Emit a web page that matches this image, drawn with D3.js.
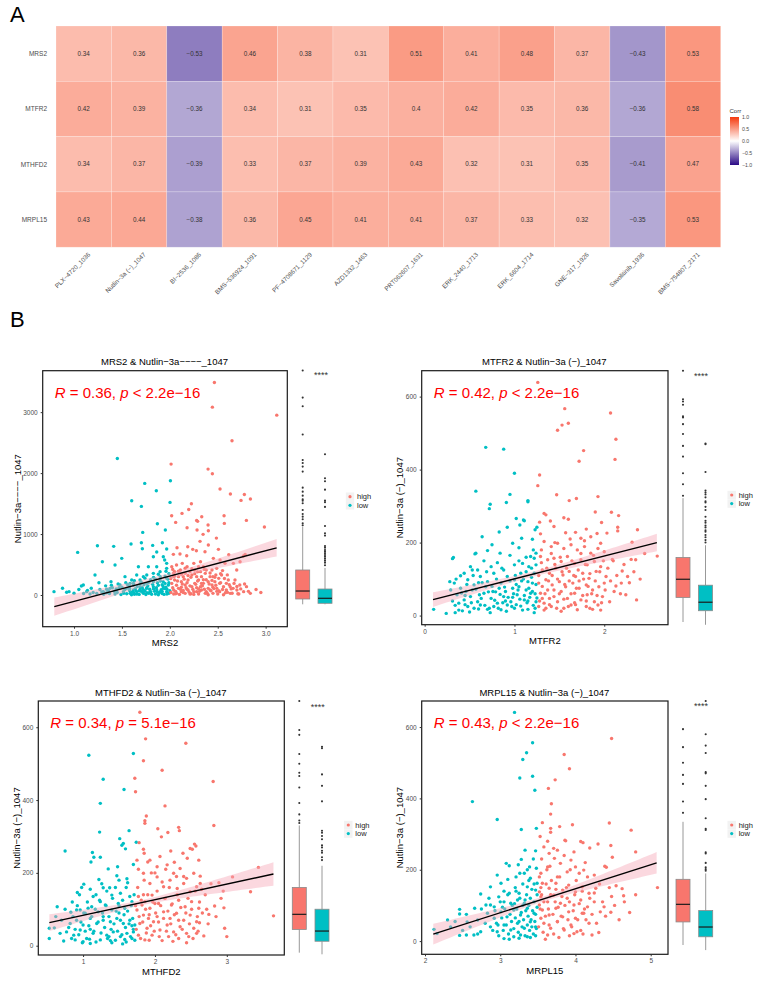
<!DOCTYPE html>
<html>
<head>
<meta charset="utf-8">
<script src="https://cdn.jsdelivr.net/npm/d3@7"></script>
<style>
  body { margin: 0; background: #fff; }
  text { font-family: "Liberation Sans", Arial, sans-serif; }
</style>
</head>
<body>
<svg id="fig" width="768" height="981"></svg>
<script>
// ---------- A: correlation heatmap ----------
var drugs = ["PLX−4720_1036", "Nutlin−3a (−)_1047", "BI−2536_1086", "BMS−536924_1091", "PF−4708671_1129",
  "AZD1332_1463", "PRT062607_1631", "ERK_2440_1713", "ERK_6604_1714", "GNE−317_1926", "Savolitinib_1936", "BMS−754807_2171"];
var genes = ["MRS2", "MTFR2", "MTHFD2", "MRPL15"];
var corrMRS2   = [0.34, 0.36, -0.53, 0.46, 0.38, 0.31, 0.51, 0.41, 0.48, 0.37, -0.43, 0.53];
var corrMTFR2  = [0.42, 0.39, -0.36, 0.34, 0.31, 0.35, 0.4, 0.42, 0.35, 0.36, -0.36, 0.58];
var corrMTHFD2 = [0.34, 0.37, -0.39, 0.33, 0.37, 0.39, 0.43, 0.32, 0.31, 0.35, -0.41, 0.47];
var corrMRPL15 = [0.43, 0.44, -0.38, 0.36, 0.45, 0.41, 0.41, 0.37, 0.33, 0.32, -0.35, 0.53];
var corrTicks = [1, 0.5, 0, -0.5, -1];

// ---------- B: scatter + box panels ----------
var mrs2High = [[2.465,3486],[2.444,3082],[3.116,2951],[2.649,2530],[2.399,2066],[2.444,1989],[2.013,2148],[2.524,1738],[2.632,1656],[2.778,1650],[2.841,1574],[2.743,1552],[2.225,1497],[2.127,1339],[2.197,1404],[2.019,1301],[2.061,1191],[2.280,1224],[2.290,1208],[2.333,1284],[2.399,1148],[2.566,1301],[2.569,1175],[2.799,1224],[2.987,1115],[2.180,1104],[2.402,1055],[2.284,1066],[2.347,995],[2.486,934],[2.315,880],[2.187,792],[2.239,749],[2.075,776],[2.037,667],[2.106,672],[2.176,645],[2.277,727],[2.402,820],[2.367,710],[2.507,749],[2.615,661],[2.768,639],[2.733,546],[2.786,667],[2.454,601],[2.524,574],[2.576,519],[2.663,519],[2.698,410],[2.489,437],
  [2.02,464],[2.05,383],[2.09,301],[2.12,219],[2.16,164],[2.19,82],[2.23,137],[2.26,191],[2.30,246],[2.33,301],[2.37,355],[2.05,246],[2.09,109],[2.12,55],[2.16,27],[2.04,82],[2.07,27],[2.19,246],[2.23,328],[2.26,410],[2.30,464],[2.33,82],[2.37,27],[2.40,109],[2.44,164],[2.47,219],[2.51,273],[2.54,328],[2.56,137],[2.59,82],[2.63,27],[2.66,109],[2.72,16],[2.73,164],[2.80,137],[2.11,410],[2.18,464],[2.25,519],[2.32,546],[2.38,410],[2.42,301],[2.49,109],[2.52,55],[2.35,191],[2.28,55],[2.21,16],[2.14,301],[2.45,27],[2.68,246],[2.61,246],[2.04,301],[2.07,492],[2.13,519],[2.35,464],[2.44,410],[2.52,191],
  [2.04,16],[2.12,126],[2.18,93],[2.25,55],[2.30,16],[2.32,137],[2.38,55],[2.42,82],[2.45,126],[2.51,71],[2.58,38],[2.63,137],[2.70,82],[2.28,301],[2.21,383],[2.16,355],[2.45,301],[2.40,219],[2.32,383],[2.59,191],[2.77,55],[2.84,27]];
var mrs2HighDense = [[2.01,40],[2.02,190],[2.03,120],[2.04,360],[2.06,60],[2.07,160],[2.08,230],[2.10,10],[2.11,95],[2.13,180],[2.14,40],[2.15,260],[2.17,120],[2.18,200],[2.20,50],[2.21,150],[2.22,290],[2.24,95],[2.25,10],[2.27,175],[2.28,120],[2.29,230],[2.31,60],[2.33,190],[2.34,150],[2.36,95],[2.38,250],[2.39,30],[2.41,180],[2.43,70],[2.44,240],[2.46,105],[2.48,160],[2.50,15],[2.53,200],[2.55,90],[2.57,270],[2.60,45],[2.62,170],[2.65,30],[2.67,190],[2.70,140],[2.74,100],[2.78,180],[2.82,60],[2.03,420],[2.09,390],[2.16,440],[2.23,430],[2.29,380],[2.36,420],[2.42,360],[2.48,330],[2.55,400],[2.01,270],[2.05,310],[2.12,340],[2.19,320],[2.26,350],[2.35,250],[2.47,290],[2.53,350],[2.60,330],[2.06,20],[2.14,75],[2.22,20],[2.30,100],[2.40,5],[2.49,60],[2.56,5],[2.64,100],[2.71,20],[2.90,90],[2.95,40]];
var mrs2Low = [[0.791,55],[1.452,2240],[1.738,1831],[1.859,1710],[2.006,1874],[1.602,1546],[1.703,1454],[2.002,1519],[1.870,1169],[1.717,1027],[1.953,1066],[1.038,699],[1.244,809],[1.414,798],[1.595,836],[1.703,858],[1.713,760],[1.821,814],[1.922,858],[1.967,754],[1.863,705],[1.828,628],[1.932,628],[1.946,574],[1.498,601],[1.296,546],[1.428,492],[1.097,164],[1.077,148],[0.923,44],[0.948,55],[1.219,328],[1.386,219],[1.480,164],[1.585,191],[1.654,328],[1.724,301],[1.672,464],[1.776,464],[1.863,464],[1.898,383],[1.967,437],[1.967,519],[1.828,355],[1.759,328],[1.132,55],[1.237,27],[1.306,55],[1.376,109],[1.445,82],[1.515,55],[1.550,109],[1.619,82],[1.689,137],[1.759,191],[1.828,219],[1.898,246],[1.967,273],[1.985,164],[1.932,109],[1.863,82],[1.793,55],[1.724,27],[1.654,16],[1.585,27],[1.759,109],[1.828,137],[1.898,55],[1.967,55],[1.689,246],[1.619,191],[1.428,16],[1.341,38],[1.167,16],[1.532,301],[1.602,246],
  [1.55,20],[1.62,40],[1.70,60],[1.78,30],[1.85,15],[1.92,25],[1.99,30],[1.88,160],[1.95,190],[1.80,250],[1.73,170],[1.66,140],[1.50,130],[1.45,40],[1.36,70],[1.27,90],[1.20,40],[1.10,25],[1.63,12],[1.72,90],[1.90,300],[1.99,350],[1.83,290],[1.68,70],[1.93,140],[1.58,75]];
var mrs2LowDense = [[1.31,12],[1.34,95],[1.39,160],[1.42,62],[1.47,118],[1.49,8],[1.53,88],[1.56,170],[1.58,140],[1.61,52],[1.64,104],[1.66,22],[1.69,180],[1.71,128],[1.74,70],[1.76,36],[1.77,150],[1.79,95],[1.81,12],[1.82,175],[1.84,60],[1.86,120],[1.87,200],[1.89,35],[1.91,85],[1.93,220],[1.94,10],[1.96,130],[1.97,95],[1.99,200],[2.00,70],[1.98,260],[1.95,310],[1.90,230],[1.85,260],[1.78,210],[1.70,215],[1.62,160],[1.54,200],[1.46,180],[1.40,120],[1.33,150],[1.26,200],[1.18,110],[1.14,75],[1.05,90],[1.00,30],[0.88,110],[1.60,5],[1.68,10],[1.75,8],[1.88,5],[1.97,15],[1.52,30],[1.44,100],[1.37,25],[1.29,50],[1.72,40],[1.80,55],[1.92,60],[1.65,62],[1.58,105],[1.83,100],[1.95,105],[1.87,48],[1.76,120],[1.69,100],[1.63,235],[1.74,275],[1.88,340],[1.96,390],[1.92,170]];
var mrs2Fit = [-522.8, 416.6], mrs2FitX = [0.794, 3.115], mrs2Band = [1.986, 50, 150];
var mrs2Stat = ["0.36", "<", "2.2e−16"];
var mrs2BoxHigh = [0, 79.5, 199, 514, 1163], mrs2BoxLow = [0, 15, 90, 229, 545];
var mrs2OutHigh = [3502,3097,2968,2543,2163,2118,2063,1988,1748,1688,1628,1574,1553,1514,1414,1354,1313,1274,1214,1184];
var mrs2OutLow = [2249,1889,1844,1718,1553,1529,1459,1174,1064,1029,874,849,814,789,764,739,714,684,654,624,585];

var mtfr2High = [[1.26,639],[1.56,567],[1.53,522],[1.60,527],[1.48,508],[2.07,555],[2.13,483],[2.12,428],[1.77,452],[1.72,423],[1.28,385],[1.26,356],[1.47,331],[1.61,315],[1.69,321],[1.93,326],[1.33,280],[1.35,276],[1.55,268],[1.60,264],[1.90,284],[2.08,283],[2.16,274],[1.97,255],[2.15,242],[2.15,232],[2.37,235],[1.28,256],[1.40,259],[1.44,244],[1.29,224],[1.57,227],[1.68,228],[1.80,237],[1.74,212],[1.85,216],[2.03,226],[2.31,201],[2.00,175],[2.09,154],[2.30,154],[2.35,153],[2.59,163],[2.20,122],[2.13,81],[2.24,57],[2.36,43],
  [1.33,203],[1.41,189],[1.48,198],[1.55,184],[1.63,194],[1.70,180],[1.78,189],[1.85,171],[1.93,184],[1.96,198],
  [1.29,162],[1.37,153],[1.44,157],[1.52,148],[1.59,162],[1.67,143],[1.74,153],[1.81,139],[1.89,148],[1.96,134],
  [1.31,125],[1.39,116],[1.46,130],[1.54,111],[1.61,121],[1.68,107],[1.76,116],[1.83,102],[1.91,121],[2.02,107],
  [1.27,89],[1.35,98],[1.42,84],[1.50,93],[1.57,79],[1.65,89],[1.72,75],[1.80,84],[1.87,70],[1.94,79],
  [1.29,61],[1.37,70],[1.44,52],[1.52,66],[1.59,47],[1.67,61],[1.74,43],[1.81,57],[1.89,38],[1.98,52],
  [1.33,34],[1.41,25],[1.48,38],[1.55,20],[1.63,29],[1.70,16],[1.80,25],[1.87,17],[1.93,29],[2.06,38],[2.11,66],[2.19,89],[2.26,107],[2.00,89],[1.27,25],[1.31,47],[1.39,47]];
var mtfr2HighDense = [[1.27,110],[1.28,40],[1.30,145],[1.31,80],[1.33,15],[1.34,60],[1.36,130],[1.38,95],[1.39,30],[1.41,170],[1.42,110],[1.44,70],[1.45,140],[1.47,20],[1.48,100],[1.50,60],[1.51,160],[1.53,120],[1.55,45],[1.56,85],[1.58,130],[1.60,25],[1.61,95],[1.63,60],[1.64,150],[1.66,110],[1.67,35],[1.69,75],[1.71,125],[1.72,95],[1.74,170],[1.76,55],[1.77,100],[1.79,140],[1.80,40],[1.82,80],[1.84,115],[1.86,60],[1.88,165],[1.90,95],[1.92,55],[1.95,120],[1.97,35],[1.99,150],[2.01,70],[2.04,130],[2.07,95],[2.10,150],[2.14,110],[2.18,60],[2.22,140],[2.28,90],[2.33,120],[2.40,100],[2.45,170],[1.30,180],[1.45,200],[1.62,210],[1.78,205],[1.92,225],[1.35,20],[1.52,12],[1.68,30],[1.84,20],[1.96,15]];
var mtfr2Low = [[0.68,461],[0.88,456],[1.00,390],[0.57,341],[0.95,332],[0.91,310],[0.73,305],[0.72,293],[1.15,312],[1.15,315],[1.02,266],[1.10,262],[1.11,260],[1.06,248],[0.92,242],[0.83,229],[0.64,216],[0.75,194],[0.56,169],[0.57,171],[0.32,159],[0.31,156],[1.23,235],[1.25,242],[1.20,209],[1.22,157],[1.08,212],[0.98,198],[1.05,186],[0.84,171],[0.70,178],[0.51,134],[0.40,109],[0.28,93],[0.10,17],[0.24,6],[0.34,8],[0.42,13],
  [0.29,70],[0.36,57],[0.44,43],[0.51,52],[0.59,38],[0.66,61],[0.74,47],[0.81,34],[0.88,52],[0.96,38],[1.03,57],[1.11,43],[1.18,61],[1.24,38],
  [0.33,89],[0.40,75],[0.48,98],[0.55,84],[0.62,107],[0.70,93],[0.77,116],[0.85,89],[0.92,107],[1.00,98],[1.07,116],[1.15,93],[1.22,116],[1.20,89],
  [0.48,25],[0.55,20],[0.62,29],[0.70,17],[0.77,25],[0.85,16],[0.92,29],[1.00,20],[1.07,26],[1.15,17],[1.22,8],
  [0.38,34],[0.46,66],[0.53,70],[0.61,57],[0.68,79],[0.76,66],[0.83,75],[0.90,66],[0.98,75],[1.05,79],[1.13,70],[1.20,66],[1.09,143],[1.16,134],[1.00,139],[0.88,125],[0.44,116],[0.59,125],[0.74,134],[1.24,139],[1.24,171],[1.18,162]];
var mtfr2LowDense = [[0.31,40],[0.35,100],[0.38,15],[0.41,62],[0.45,30],[0.47,85],[0.50,10],[0.52,35],[0.54,110],[0.57,72],[0.60,18],[0.63,47],[0.64,90],[0.67,28],[0.69,120],[0.71,65],[0.73,8],[0.75,80],[0.78,42],[0.80,100],[0.82,20],[0.84,58],[0.86,130],[0.87,35],[0.89,78],[0.91,12],[0.93,50],[0.95,95],[0.97,25],[0.99,60],[1.01,110],[1.02,30],[1.04,70],[1.06,45],[1.08,95],[1.09,15],[1.11,55],[1.13,120],[1.14,35],[1.16,75],[1.17,50],[1.19,105],[1.21,28],[1.23,60],[1.24,85],[1.25,48],[1.21,180],[1.19,130],[1.13,160],[1.05,150],[0.95,165],[0.81,145],[0.66,150],[0.53,125],[1.23,20],[1.10,100],[0.98,50],[0.90,40],[0.79,65],[0.60,90],[1.02,85],[1.15,40],[0.72,20],[0.45,55],[0.34,28]];
var mtfr2Fit = [38.0, 62.66], mtfr2FitX = [0.093, 2.586], mtfr2Band = [1.213, 7, 20];
var mtfr2Stat = ["0.42", "<", "2.2e−16"];
var mtfr2BoxHigh = [5, 67, 113, 168, 318], mtfr2BoxLow = [-2, 33.5, 55, 98, 199];
var mtfr2OutHigh = [640,568,562,554,525,522,505,480,450,423,381,353,324];
var mtfr2OutLow = [456,454,384,337,332,327,320,310,307,296,288,271,261,256,249,244,237,233,225,219,212,206];

var mthfd2High = [[1.79,641],[1.87,568],[2.43,556],[1.84,508],[2.10,482],[1.72,460],[1.73,423],[2.81,451],[2.14,384],[2.82,330],[1.88,356],[1.86,343],[1.86,336],[2.04,321],[2.18,311],[2.33,325],[2.34,316],[2.49,267],[2.52,265],[2.55,279],[2.57,274],[2.09,299],[1.84,265],[1.85,254],[1.78,283],[2.39,254],[2.27,229],[2.61,235],[2.63,191],[2.65,155],[2.95,150],[2.89,173],[3.08,189],[3.44,215],[3.33,148],[3.65,82],[2.97,48],[3.00,25],[2.68,27],[2.62,63],[2.72,100],[2.83,109],[2.96,104],[2.75,86],
  [1.93,235],[2.03,217],[2.17,222],[2.26,199],[2.35,212],[2.44,185],[2.54,199],[2.63,171],[1.75,235],[1.84,199],[1.93,171],[2.03,189],[2.12,162],[2.21,180],[2.31,157],[2.40,171],[2.49,148],[2.58,162],
  [1.77,135],[1.86,121],[1.96,139],[2.05,116],[2.14,130],[2.23,112],[2.33,125],[2.42,107],[2.51,121],[2.61,103],
  [1.75,98],[1.84,84],[1.93,103],[2.03,80],[2.12,93],[2.21,75],[2.30,89],[2.40,70],[2.49,84],[2.58,66],
  [1.79,61],[1.89,48],[1.98,66],[2.07,43],[2.17,57],[2.26,38],[2.35,52],[2.44,34],[2.54,48],[1.77,29],[1.86,16],[1.96,29],[2.10,14],[2.19,25],[2.33,20],[2.47,25],[2.58,34],[1.91,75],[2.00,116],[1.82,112]];
var mthfd2HighDense = [[1.73,110],[1.74,45],[1.76,160],[1.78,80],[1.80,20],[1.81,125],[1.83,65],[1.85,180],[1.87,100],[1.88,35],[1.90,140],[1.92,85],[1.94,55],[1.95,200],[1.97,120],[1.99,40],[2.01,90],[2.03,150],[2.05,65],[2.06,25],[2.08,110],[2.10,175],[2.12,75],[2.14,130],[2.16,40],[2.18,95],[2.20,160],[2.22,60],[2.24,115],[2.27,85],[2.29,30],[2.31,140],[2.33,70],[2.36,105],[2.38,45],[2.40,190],[2.43,90],[2.46,130],[2.48,60],[2.51,100],[2.53,20],[2.56,150],[2.59,80],[2.62,120],[2.66,90],[2.70,140],[2.74,60],[2.78,170],[2.85,80],[2.92,130],[1.77,210],[1.90,230],[2.07,245],[2.22,260],[2.45,240],[1.84,140],[2.00,200],[2.15,210],[2.30,190],[1.92,15],[2.25,12],[2.44,8],[2.60,40]];
var mthfd2Low = [[1.08,523],[1.70,528],[1.28,457],[1.57,429],[1.24,391],[1.23,312],[1.64,316],[1.51,294],[1.56,281],[1.59,266],[1.54,276],[1.74,284],[0.75,260],[1.13,256],[1.15,243],[1.11,230],[1.24,243],[1.35,211],[1.48,217],[1.70,223],[1.47,192],[1.50,180],[1.61,184],[1.62,173],[1.01,169],[0.98,160],[0.92,146],[1.10,155],[1.22,182],[1.28,159],[1.37,159],[1.40,139],[0.64,107],[0.83,92],[0.53,48],[0.53,20],[0.60,49],[0.73,13],[0.96,98],[1.07,103],
  [0.77,38],[0.87,29],[0.96,43],[1.05,20],[1.14,34],[1.24,16],[1.33,29],[1.42,38],[1.52,25],[1.61,34],[1.70,38],
  [0.82,61],[0.91,70],[1.00,57],[1.10,75],[1.19,61],[1.28,80],[1.38,66],[1.47,75],[1.56,61],[1.65,70],[1.72,57],
  [0.91,98],[1.03,89],[1.12,107],[1.21,93],[1.31,112],[1.40,98],[1.49,116],[1.58,103],[1.68,121],[1.14,135],[1.24,121],[1.52,144],[1.65,135],[1.00,11],[1.10,6],[1.38,14],[1.58,17],[1.68,20],[0.89,16],[0.68,34]];
var mthfd2LowDense = [[0.80,50],[0.84,20],[0.86,80],[0.89,45],[0.92,110],[0.94,30],[0.97,65],[0.99,8],[1.01,90],[1.03,40],[1.06,120],[1.08,55],[1.09,18],[1.12,80],[1.15,40],[1.17,100],[1.18,10],[1.21,65],[1.23,125],[1.25,35],[1.27,90],[1.30,50],[1.32,110],[1.34,20],[1.36,80],[1.39,45],[1.41,130],[1.43,60],[1.45,15],[1.46,95],[1.48,40],[1.50,110],[1.52,70],[1.54,30],[1.55,125],[1.57,85],[1.59,50],[1.60,10],[1.62,95],[1.64,60],[1.66,25],[1.67,110],[1.69,75],[1.70,45],[1.71,140],[1.72,15],[1.45,160],[1.33,150],[1.60,160],[1.26,170],[1.18,140],[0.95,140],[0.85,120],[0.70,70],[0.62,80],[0.75,100],[1.55,5],[1.40,8],[1.10,45],[1.28,70],[1.50,90],[1.68,55],[1.36,25]];
var mthfd2Fit = [40.4, 42.9], mthfd2FitX = [0.531, 3.649], mthfd2Band = [1.817, 7, 23];
var mthfd2Stat = ["0.34", "=", "5.1e−16"];
var mthfd2BoxHigh = [23, 80, 117, 183, 335], mthfd2BoxLow = [19, 51, 76, 129.5, 236];
var mthfd2OutHigh = [640,569,557,510,486,464,456,428,390,362,347,341];
var mthfd2OutLow = [528,524,460,432,394,322,317,309,301,286,281,273,268,257,250];

var mrpl15High = [[4.48,568],[3.85,523],[3.92,483],[3.73,452],[3.64,428],[3.68,385],[3.67,356],[4.45,331],[3.96,326],[4.74,311],[3.56,332],[3.67,316],[3.79,321],[3.67,305],[3.53,293],[3.86,283],[3.87,281],[4.07,279],[4.10,276],[4.19,261],[4.30,272],[4.47,268],[4.80,250],[4.49,235],[4.39,210],[4.41,207],[4.13,220],[4.05,190],[4.25,185],[4.54,155],[4.62,147],[4.64,127],[4.48,125],[4.47,81],[5.09,150],[4.38,96],[4.33,82],[4.18,50],[4.22,17],[4.31,24],[4.11,78],
  [3.58,264],[3.65,246],[3.76,255],[3.72,232],[3.80,218],[3.94,227],[4.00,208],[4.11,199],[3.89,194],[3.63,208],[3.54,190],[3.76,180],
  [3.56,162],[3.65,148],[3.74,162],[3.83,143],[3.91,157],[4.00,138],[4.09,152],[4.18,134],[4.27,148],
  [3.54,124],[3.63,110],[3.71,129],[3.80,106],[3.89,120],[3.98,101],[4.07,115],[4.16,96],[4.25,110],
  [3.56,87],[3.65,73],[3.74,92],[3.83,68],[3.91,82],[4.00,64],[4.09,78],[3.58,50],[3.67,36],[3.76,54],[3.85,31],[3.94,45],[4.02,26],[3.63,17],[3.98,21],[3.54,64],[3.52,101],[3.52,138]];
var mrpl15HighDense = [[3.51,40],[3.52,180],[3.53,90],[3.55,130],[3.57,25],[3.58,110],[3.60,70],[3.61,160],[3.62,200],[3.64,90],[3.65,45],[3.67,130],[3.68,170],[3.70,75],[3.71,20],[3.73,110],[3.74,145],[3.76,55],[3.77,95],[3.79,180],[3.81,70],[3.82,125],[3.84,35],[3.86,100],[3.88,150],[3.90,60],[3.92,110],[3.93,200],[3.95,40],[3.97,85],[3.99,130],[4.01,170],[4.03,60],[4.05,105],[4.07,30],[4.09,140],[4.12,90],[4.14,60],[4.16,180],[4.19,120],[4.22,75],[4.25,135],[4.28,50],[4.32,160],[4.36,110],[4.40,70],[4.45,150],[4.52,100],[4.58,60],[4.65,110],[4.72,80],[4.80,130],[3.55,230],[3.63,280],[3.71,260],[3.85,240],[3.98,250],[3.60,5],[3.78,10],[3.92,15],[4.10,20],[3.54,150],[3.66,210]];
var mrpl15Low = [[3.19,641],[3.43,556],[3.35,528],[3.30,509],[3.26,457],[3.43,462],[3.46,423],[2.63,391],[2.96,341],[3.28,313],[3.48,316],[3.33,255],[3.47,253],[3.08,218],[3.12,211],[3.24,214],[3.28,229],[3.39,208],[3.48,204],[2.74,132],[2.46,89],[2.46,76],[2.66,92],[2.12,33],[2.16,21],[2.46,16],[2.55,17],[2.81,101],[2.87,101],[3.10,173],[3.21,180],[3.32,190],[3.40,176],[3.49,162],[3.47,143],[3.36,152],[3.25,134],
  [2.83,78],[2.92,64],[3.01,82],[3.09,68],[3.18,87],[3.27,73],[3.36,92],[3.45,78],
  [2.87,40],[2.96,26],[3.05,45],[3.14,31],[3.23,50],[3.32,36],[3.40,54],[3.47,40],[3.18,12],[3.27,17],[3.05,7],[3.36,12],[2.74,26],[2.65,17],
  [3.05,110],[3.14,106],[3.23,115],[3.32,106],[3.40,120],[2.98,124],[3.12,134],[2.92,96],[2.56,54],[2.70,59],[2.34,40],[2.30,59],[2.96,185],[3.01,162],[2.87,152]];
var mrpl15LowDense = [[2.90,30],[2.93,85],[2.95,50],[2.98,15],[3.00,110],[3.02,65],[3.04,30],[3.06,90],[3.08,45],[3.10,130],[3.11,20],[3.13,75],[3.15,55],[3.16,100],[3.18,35],[3.20,65],[3.21,140],[3.22,90],[3.24,25],[3.25,55],[3.26,120],[3.28,80],[3.29,40],[3.30,100],[3.31,60],[3.33,15],[3.34,85],[3.35,130],[3.36,45],[3.37,70],[3.38,100],[3.39,30],[3.41,60],[3.42,145],[3.43,85],[3.44,20],[3.45,110],[3.46,55],[3.47,75],[3.48,35],[3.49,95],[3.49,130],[3.45,160],[3.38,170],[3.30,160],[3.20,150],[3.44,230],[3.36,200],[3.26,190],[2.80,50],[2.75,90],[2.60,40],[2.50,30],[2.40,55],[2.55,75],[2.70,20],[2.85,120],[3.05,140],[3.12,5],[3.25,8],[3.40,10],[3.47,15],[3.33,115],[3.19,105],[3.42,40],[3.03,95],[2.97,45]];
var mrpl15Fit = [-122.4, 67.3], mrpl15FitX = [2.110, 5.079], mrpl15Band = [3.568, 7, 29];
var mrpl15Stat = ["0.43", "<", "2.2e−16"];
var mrpl15BoxHigh = [17, 76, 121, 185, 332], mrpl15BoxLow = [4, 38, 63, 105, 200];
var mrpl15OutHigh = [569,523,483,452,429,384,355];
var mrpl15OutLow = [641,556,527,508,459,456,424,390,341,314,311,254,251,227,216,211,207];

var groupColors = {high: "#F8766D", low: "#00BFC4"};

// layout of the four panels (pixel boxes, axis domains, ticks)
var panels = [
  {title: "MRS2 & Nutlin−3a−−−−_1047", xlab: "MRS2", ylab: "Nutlin−3a−−−−_1047",
   l: 42.7, t: 370.7, r: 287.3, b: 626.7, xd: [0.673, 3.226], yd: [-520, 3680],
   xt: [1, 1.5, 2, 2.5, 3], xf: ".1f", yt: [0, 1000, 2000, 3000], ylabX: 17.3,
   boxX: [302.7, 325], boxD: [0, 3500], boxR: [604.3, 370.7], stars: [321, 378], leg: [350, 496.7],
   high: mrs2High.concat(mrs2HighDense), low: mrs2Low.concat(mrs2LowDense),
   fit: mrs2Fit, fitX: mrs2FitX, band: mrs2Band, stat: mrs2Stat,
   boxHigh: mrs2BoxHigh, boxLow: mrs2BoxLow, outHigh: mrs2OutHigh, outLow: mrs2OutLow},
  {title: "MTFR2 & Nutlin−3a (−)_1047", xlab: "MTFR2", ylab: "Nutlin−3a (−)_1047",
   l: 421.7, t: 370.7, r: 668, b: 624.7, xd: [-0.033, 2.71], yd: [-25, 671],
   xt: [0, 1, 2], xf: "d", yt: [0, 200, 400, 600], ylabX: 399.7,
   boxX: [683, 705.5], boxD: [5, 640], boxR: [622, 370.7], stars: [701, 379], leg: [731.7, 495],
   high: mtfr2High.concat(mtfr2HighDense), low: mtfr2Low.concat(mtfr2LowDense),
   fit: mtfr2Fit, fitX: mtfr2FitX, band: mtfr2Band, stat: mtfr2Stat,
   boxHigh: mtfr2BoxHigh, boxLow: mtfr2BoxLow, outHigh: mtfr2OutHigh, outLow: mtfr2OutLow},
  {title: "MTHFD2 & Nutlin−3a (−)_1047", xlab: "MTHFD2", ylab: "Nutlin−3a (−)_1047",
   l: 38.3, t: 701, r: 284.3, b: 955, xd: [0.377, 3.80], yd: [-25.5, 672],
   xt: [1, 2, 3], xf: "d", yt: [0, 200, 400, 600], ylabX: 16.3,
   boxX: [299.3, 322], boxD: [19, 640], boxR: [954.3, 701], stars: [317.7, 709.5], leg: [348.3, 825],
   high: mthfd2High.concat(mthfd2HighDense), low: mthfd2Low.concat(mthfd2LowDense),
   fit: mthfd2Fit, fitX: mthfd2FitX, band: mthfd2Band, stat: mthfd2Stat,
   boxHigh: mthfd2BoxHigh, boxLow: mthfd2BoxLow, outHigh: mthfd2OutHigh, outLow: mthfd2OutLow},
  {title: "MRPL15 & Nutlin−3a (−)_1047", xlab: "MRPL15", ylab: "Nutlin−3a (−)_1047",
   l: 421.7, t: 701, r: 668, b: 954.3, xd: [1.956, 5.23], yd: [-37, 673],
   xt: [2, 3, 4, 5], xf: "d", yt: [0, 200, 400, 600], ylabX: 399.7,
   boxX: [683, 705.7], boxD: [17, 641], boxR: [945, 701], stars: [701, 709], leg: [731.7, 825],
   high: mrpl15High.concat(mrpl15HighDense), low: mrpl15Low.concat(mrpl15LowDense),
   fit: mrpl15Fit, fitX: mrpl15FitX, band: mrpl15Band, stat: mrpl15Stat,
   boxHigh: mrpl15BoxHigh, boxLow: mrpl15BoxLow, outHigh: mrpl15OutHigh, outLow: mrpl15OutLow}
];

var svg = d3.select("#fig");
var minus = function(s) { return String(s).replace(/-/g, "−"); };

// ---------- panel A ----------
svg.append("text").attr("x", 10).attr("y", 21.7).attr("font-size", 22).text("A");

var corrRows = [corrMRS2, corrMTFR2, corrMTHFD2, corrMRPL15];
var cells = [];
corrRows.forEach(function(row, i) {
  row.forEach(function(v, j) { cells.push({gene: genes[i], drug: drugs[j], v: v}); });
});

var hx = d3.scaleBand().domain(drugs).range([56, 720.7]);
var hy = d3.scaleBand().domain(genes).range([26, 247.2]);
var corrColor = d3.scaleLinear().domain([-1, 0, 1]).range(["#2A0A86", "#FFFFFF", "#F53A0E"]);

var hm = svg.append("g");
hm.selectAll("rect").data(cells).enter().append("rect")
  .attr("x", function(d) { return hx(d.drug); })
  .attr("y", function(d) { return hy(d.gene); })
  .attr("width", hx.bandwidth())
  .attr("height", hy.bandwidth())
  .attr("fill", function(d) { return corrColor(d.v); })
  .attr("stroke", "rgba(255,255,255,0.35)")
  .attr("stroke-width", 0.6);

hm.selectAll("text.val").data(cells).enter().append("text")
  .attr("class", "val")
  .attr("x", function(d) { return hx(d.drug) + hx.bandwidth() / 2; })
  .attr("y", function(d) { return hy(d.gene) + hy.bandwidth() / 2; })
  .attr("dy", "0.35em")
  .attr("text-anchor", "middle")
  .attr("font-size", 6.3)
  .attr("fill", "#333")
  .text(function(d) { return minus(d.v); });

hm.selectAll("text.gene").data(genes).enter().append("text")
  .attr("class", "gene")
  .attr("x", 47)
  .attr("y", function(d) { return hy(d) + hy.bandwidth() / 2; })
  .attr("dy", "0.35em")
  .attr("text-anchor", "end")
  .attr("font-size", 6.5)
  .attr("fill", "#4d4d4d")
  .text(function(d) { return d; });

hm.selectAll("text.drug").data(drugs).enter().append("text")
  .attr("class", "drug")
  .attr("transform", function(d) {
    return "translate(" + (hx(d) + hx.bandwidth() / 2 + 4) + ",252) rotate(-45)";
  })
  .attr("text-anchor", "end")
  .attr("dy", "0.7em")
  .attr("font-size", 6.3)
  .attr("fill", "#4d4d4d")
  .text(function(d) { return d; });

// colour legend
var grad = svg.append("defs").append("linearGradient")
  .attr("id", "corrgrad").attr("x1", 0).attr("x2", 0).attr("y1", 0).attr("y2", 1);
d3.range(0, 1.0001, 0.1).forEach(function(f) {
  grad.append("stop").attr("offset", f).attr("stop-color", corrColor(1 - 2 * f));
});
var ly = d3.scaleLinear().domain([1, -1]).range([117, 165]);
svg.append("text").attr("x", 729.5).attr("y", 113).attr("font-size", 6).attr("fill", "#333").text("Corr");
svg.append("rect").attr("x", 730).attr("y", 117).attr("width", 9).attr("height", 48).attr("fill", "url(#corrgrad)");
svg.selectAll("text.ctick").data(corrTicks).enter().append("text")
  .attr("class", "ctick")
  .attr("x", 742).attr("y", function(d) { return ly(d); })
  .attr("dy", "0.35em")
  .attr("font-size", 5.2).attr("fill", "#4d4d4d")
  .text(function(d) { return minus(d3.format(".1f")(d)); });

// ---------- panel B ----------
svg.append("text").attr("x", 10).attr("y", 327.3).attr("font-size", 22).text("B");

panels.forEach(function(p) {
  var g = svg.append("g");
  var x = d3.scaleLinear().domain(p.xd).range([p.l, p.r]);
  var y = d3.scaleLinear().domain(p.yd).range([p.b, p.t]);

  // points
  var pts = p.low.map(function(d) { return {x: d[0], y: d[1], grp: "low"}; })
    .concat(p.high.map(function(d) { return {x: d[0], y: d[1], grp: "high"}; }));
  g.selectAll("circle.pt").data(pts).enter().append("circle")
    .attr("class", "pt")
    .attr("cx", function(d) { return x(d.x); })
    .attr("cy", function(d) { return y(d.y); })
    .attr("r", 1.7)
    .attr("fill", function(d) { return groupColors[d.grp]; });

  // regression line with confidence ribbon
  var a = p.fit[0], b = p.fit[1];
  var m = p.band[0], c = p.band[1], wEnd = p.band[2];
  var k = (wEnd * wEnd - c * c) / Math.pow(m - p.fitX[0], 2);
  var xs = d3.range(0, 1.0001, 0.02).map(function(f) { return p.fitX[0] + f * (p.fitX[1] - p.fitX[0]); });
  var ribbon = d3.area()
    .x(function(d) { return x(d); })
    .y0(function(d) { return y(a + b * d - Math.sqrt(c * c + k * (d - m) * (d - m))); })
    .y1(function(d) { return y(a + b * d + Math.sqrt(c * c + k * (d - m) * (d - m))); });
  g.append("path").datum(xs).attr("d", ribbon).attr("fill", "#F7A8B8").attr("opacity", 0.45);
  g.append("line")
    .attr("x1", x(p.fitX[0])).attr("y1", y(a + b * p.fitX[0]))
    .attr("x2", x(p.fitX[1])).attr("y2", y(a + b * p.fitX[1]))
    .attr("stroke", "#000").attr("stroke-width", 1.3);

  // frame
  g.append("rect").attr("x", p.l).attr("y", p.t).attr("width", p.r - p.l).attr("height", p.b - p.t)
    .attr("fill", "none").attr("stroke", "#1a1a1a").attr("stroke-width", 1.2);

  // axes
  var xa = g.append("g").attr("transform", "translate(0," + p.b + ")")
    .call(d3.axisBottom(x).tickValues(p.xt).tickSize(2).tickFormat(d3.format(p.xf)));
  var ya = g.append("g").attr("transform", "translate(" + p.l + ",0)")
    .call(d3.axisLeft(y).tickValues(p.yt).tickSize(2).tickFormat(d3.format("d")));
  [xa, ya].forEach(function(ax) {
    ax.select(".domain").remove();
    ax.selectAll("line").attr("stroke", "#333");
    ax.selectAll("text").attr("font-size", 6.5).attr("fill", "#4d4d4d")
      .attr("font-family", "Liberation Sans, Arial, sans-serif");
  });
  xa.selectAll("text").attr("dy", "0.6em");

  g.append("text").attr("x", (p.l + p.r) / 2).attr("y", p.b + 19.5)
    .attr("text-anchor", "middle").attr("font-size", 9.5).text(p.xlab);
  g.append("text").attr("transform", "translate(" + p.ylabX + "," + ((p.t + p.b) / 2) + ") rotate(-90)")
    .attr("dy", "0.35em").attr("text-anchor", "middle").attr("font-size", 9.5).text(p.ylab);
  g.append("text").attr("x", (p.l + p.r) / 2 - 0.5).attr("y", p.t - 5.5)
    .attr("text-anchor", "middle").attr("font-size", 9.5).text(p.title);

  // R / p annotation
  var st = g.append("text").attr("x", p.l + 12).attr("y", p.t + 27.3)
    .attr("font-size", 15).attr("fill", "#FF0000");
  st.append("tspan").attr("font-style", "italic").text("R");
  st.append("tspan").text(" = " + p.stat[0] + ", ");
  st.append("tspan").attr("font-style", "italic").text("p");
  st.append("tspan").text(" " + p.stat[1] + " " + p.stat[2]);

  // box plots
  var by = d3.scaleLinear().domain(p.boxD).range(p.boxR);
  var boxes = [
    {grp: "high", cx: p.boxX[0], s: p.boxHigh, out: p.outHigh},
    {grp: "low", cx: p.boxX[1], s: p.boxLow, out: p.outLow}
  ];
  var bw = 14;
  boxes.forEach(function(bx) {
    var s = bx.s;
    g.append("line").attr("x1", bx.cx).attr("x2", bx.cx).attr("y1", by(s[0])).attr("y2", by(s[1]))
      .attr("stroke", "#7f7f7f").attr("stroke-width", 0.8);
    g.append("line").attr("x1", bx.cx).attr("x2", bx.cx).attr("y1", by(s[3])).attr("y2", by(s[4]))
      .attr("stroke", "#7f7f7f").attr("stroke-width", 0.8);
    g.append("rect").attr("x", bx.cx - bw / 2).attr("width", bw)
      .attr("y", by(s[3])).attr("height", by(s[1]) - by(s[3]))
      .attr("fill", groupColors[bx.grp]).attr("stroke", "#8a8a8a").attr("stroke-width", 0.8);
    g.append("line").attr("x1", bx.cx - bw / 2).attr("x2", bx.cx + bw / 2)
      .attr("y1", by(s[2])).attr("y2", by(s[2]))
      .attr("stroke", "#1a1a1a").attr("stroke-width", 1.2);
    g.selectAll(null).data(bx.out).enter().append("circle")
      .attr("cx", bx.cx).attr("cy", function(d) { return by(d); })
      .attr("r", 1.05).attr("fill", "#333");
  });
  g.append("text").attr("x", p.stars[0]).attr("y", p.stars[1])
    .attr("text-anchor", "middle").attr("font-size", 9).attr("fill", "#333").text("****");

  // legend
  var legItems = ["high", "low"];
  var lg = g.append("g");
  legItems.forEach(function(name, i) {
    var cy = p.leg[1] + i * 8.6;
    lg.append("rect").attr("x", p.leg[0] - 4.2).attr("y", cy - 4.2).attr("width", 8.4).attr("height", 8.4)
      .attr("fill", "#F2F2F2");
    lg.append("circle").attr("cx", p.leg[0]).attr("cy", cy).attr("r", 1.6).attr("fill", groupColors[name]);
    lg.append("text").attr("x", p.leg[0] + 7).attr("y", cy).attr("dy", "0.35em")
      .attr("font-size", 7.5).attr("fill", "#222").text(name);
  });
});
</script>
</body>
</html>
